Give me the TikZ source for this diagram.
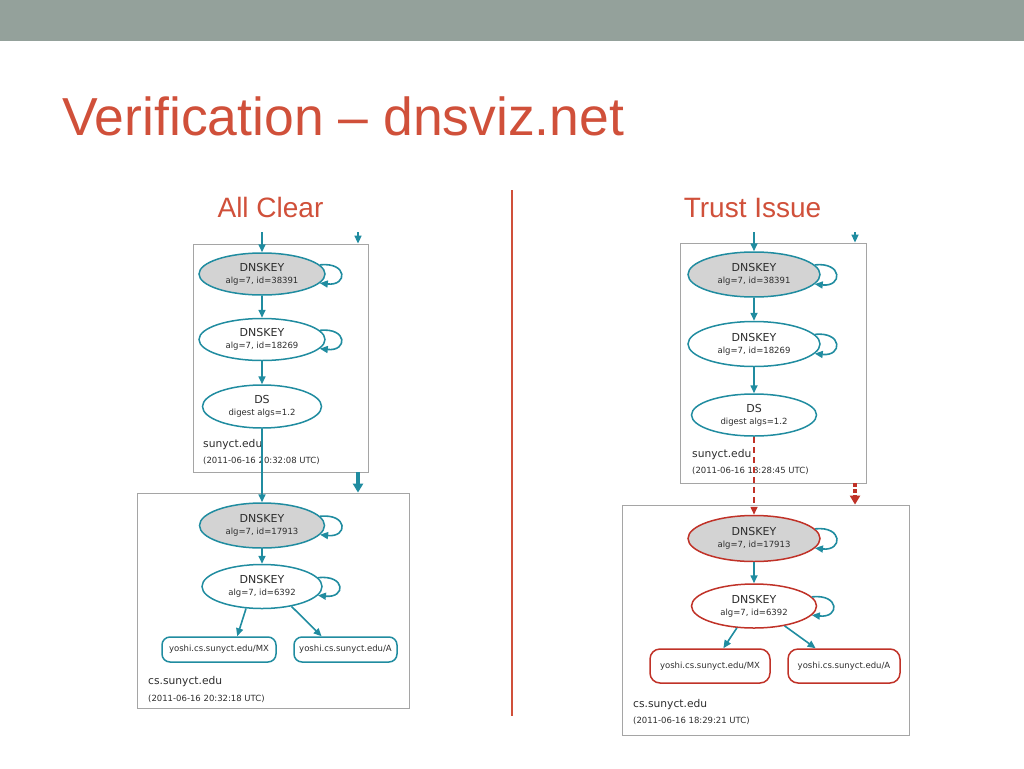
\documentclass[tikz,border=0pt]{standalone}
\usepackage{fontspec}
\setmainfont{Liberation Sans}
\newfontfamily\gv{DejaVu Sans}
\usepackage{xcolor}
\usepackage{tikz}
\usetikzlibrary{positioning,shapes,arrows.meta}
\definecolor{slidered}{RGB}{208,80,58}
\definecolor{bargray}{RGB}{148,161,155}
\definecolor{vizteal}{RGB}{32,140,160}
\definecolor{vizred}{RGB}{192,50,40}
\definecolor{keygray}{RGB}{211,211,211}
\definecolor{zonegray}{RGB}{165,165,165}
\definecolor{vizink}{RGB}{45,45,45}
\newcommand{\keytxt}{\gv\fontsize{11}{12}\selectfont}
\newcommand{\subtxt}{\fontsize{8.5}{10}\selectfont}
\tikzstyle{dnskey}=[%
      ellipse, draw=vizteal, line width=1.5pt, fill=white, text=vizink,
      inner sep=0pt, minimum width=126pt, minimum height=42pt, align=center, font=\keytxt
]
\tikzstyle{ksk}=[dnskey, fill=keygray]
\tikzstyle{rr}=[%
      rectangle, rounded corners=8pt, draw=vizteal, line width=1.5pt, text=vizink,
      inner sep=0pt, minimum height=25pt, font=\gv\subtxt
]
\tikzstyle{zone}=[rectangle, draw=zonegray, line width=0.8pt, inner sep=0pt]
\tikzstyle{zname}=[anchor=base west, text=vizink, inner sep=0pt, font=\gv\fontsize{10.7}{12}\selectfont]
\tikzstyle{ztime}=[anchor=base west, text=vizink, inner sep=0pt, font=\gv\subtxt]
\tikzstyle{arr}=[draw=vizteal, line width=1.6pt, -{Triangle[length=8pt,width=7pt]}]
\tikzstyle{bad}=[draw=vizred, line width=1.5pt, dash pattern=on 6pt off 4pt, -{Triangle[length=8pt,width=7pt]}]
\tikzstyle{deleg}=[line width=3.2pt, -{Triangle[length=9pt,width=10pt]}]
\tikzstyle{head}=[anchor=base, text=slidered, inner sep=0pt, font=\fontsize{28}{32}\selectfont]

\begin{document}
\begin{tikzpicture}[x=1pt, y=-1pt]
    \useasboundingbox (0,0) rectangle (1024,768);
    \fill[bargray] (0,0) rectangle (1024,41);
    \node[anchor=base west, text=slidered, inner sep=0pt, font=\fontsize{53.5}{60}\selectfont]
        (title) at (62,135) {Verification – dnsviz.net};
    \node[head] (clear) at (270.5,217) {All Clear};
    \node[head] (issue) at (752.5,217) {Trust Issue};
    \coordinate (divtop) at (512,190);
    \coordinate (divbot) at (512,716);
    \draw[slidered, line width=1.5pt] (divtop) -- (divbot);

    % all clear
    \node[zone, minimum width=175pt, minimum height=228pt] (lzu) at (280.5,358) {};
    \node[zone, minimum width=272pt, minimum height=215pt] (lzl) at (273,600.5) {};
    \node[ksk]              (lk1) at (262,274)         {DNSKEY\\\subtxt alg=7, id=38391};
    \node[dnskey]           (lk2) [below = 22pt of lk1] {DNSKEY\\\subtxt alg=7, id=18269};
    \node[dnskey, minimum width=119pt, minimum height=43pt]
                            (lds) [below = 23pt of lk2] {DS\\\subtxt digest algs=1.2};
    \node[zname] (lzun) at (203,447) {sunyct.edu};
    \node[ztime] (lzut) at (203,463) {(2011-06-16 20:32:08 UTC)};
    \node[ksk, minimum width=125pt, minimum height=45pt]
                            (lk4) at (262,525.5)       {DNSKEY\\\subtxt alg=7, id=17913};
    \node[dnskey, minimum width=120pt, minimum height=44pt]
                            (lk5) [below = 15pt of lk4] {DNSKEY\\\subtxt alg=7, id=6392};
    \node[rr, minimum width=114pt] (lmx) at (219,649.5)   {yoshi.cs.sunyct.edu/MX};
    \node[rr, minimum width=103pt] (la)  at (345.5,649.5) {yoshi.cs.sunyct.edu/A};
    \node[zname] (lzln) at (148,684) {cs.sunyct.edu};
    \node[ztime] (lzlt) at (148,701) {(2011-06-16 20:32:18 UTC)};

    \coordinate (lin) at (262,232);
    \coordinate (ltop) at (358,232);
    \draw[arr] (ltop) -- (ltop |- lzu.north);
    \draw[arr, deleg] (ltop |- lzu.south) -- (ltop |- lzl.north);
    \path (lin) edge[arr] (lk1)
          (lk1) edge[arr] (lk2)
          (lk2) edge[arr] (lds)
          (lds) edge[arr] (lk4)
          (lk4) edge[arr] (lk5)
          (lk5.234) edge[arr] (lmx.36)
          (lk5.326) edge[arr] (la.151);
    \draw[arr] (lk1.9) .. controls +(28,-3) and +(28,3) .. (lk1.-9);
    \draw[arr] (lk2.9) .. controls +(28,-3) and +(28,3) .. (lk2.-9);
    \draw[arr] (lk4.9) .. controls +(28,-3) and +(28,3) .. (lk4.-9);
    \draw[arr] (lk5.9) .. controls +(28,-3) and +(28,3) .. (lk5.-9);

    % trust issue
    \node[zone, minimum width=186pt, minimum height=240pt] (rzu) at (773,363) {};
    \node[zone, minimum width=287pt, minimum height=230pt] (rzl) at (765.5,620) {};
    \node[ksk, minimum width=132pt, minimum height=45pt]
                            (rk1) at (754,274.5)       {DNSKEY\\\subtxt alg=7, id=38391};
    \node[dnskey, minimum width=132pt, minimum height=45pt]
                            (rk2) [below = 23pt of rk1] {DNSKEY\\\subtxt alg=7, id=18269};
    \node[dnskey, minimum width=125pt, minimum height=42pt]
                            (rds) [below = 26pt of rk2] {DS\\\subtxt digest algs=1.2};
    \node[zname] (rzun) at (692,457) {sunyct.edu};
    \node[ztime] (rzut) at (692,473) {(2011-06-16 18:28:45 UTC)};
    \node[ksk, draw=vizred, minimum width=132pt, minimum height=46pt]
                            (rk4) at (754,538.5)       {DNSKEY\\\subtxt alg=7, id=17913};
    \node[dnskey, draw=vizred, minimum width=125pt, minimum height=44pt]
                            (rk5) [below = 21pt of rk4] {DNSKEY\\\subtxt alg=7, id=6392};
    \node[rr, draw=vizred, minimum width=120pt, minimum height=34pt, rounded corners=10pt]
                            (rmx) at (710,666) {yoshi.cs.sunyct.edu/MX};
    \node[rr, draw=vizred, minimum width=112pt, minimum height=34pt, rounded corners=10pt]
                            (ra)  at (844,666) {yoshi.cs.sunyct.edu/A};
    \node[zname] (rzln) at (633,707) {cs.sunyct.edu};
    \node[ztime] (rzlt) at (633,723) {(2011-06-16 18:29:21 UTC)};

    \coordinate (rin) at (754,232);
    \coordinate (rtop) at (855,232);
    \draw[arr] (rtop) -- (rtop |- rzu.north);
    \draw[bad, deleg, dash pattern=on 4pt off 2pt] (rtop |- rzu.south) -- (rtop |- rzl.north);
    \path (rin) edge[arr] (rk1)
          (rk1) edge[arr] (rk2)
          (rk2) edge[arr] (rds)
          (rds) edge[bad] (rk4)
          (rk4) edge[arr] (rk5)
          (rk5.232) edge[arr] (rmx.53)
          (rk5.327) edge[arr] (ra.148);
    \draw[arr] (rk1.9) .. controls +(28,-3) and +(28,3) .. (rk1.-9);
    \draw[arr] (rk2.9) .. controls +(28,-3) and +(28,3) .. (rk2.-9);
    \draw[arr] (rk4.9) .. controls +(28,-3) and +(28,3) .. (rk4.-9);
    \draw[arr] (rk5.9) .. controls +(28,-3) and +(28,3) .. (rk5.-9);
\end{tikzpicture}
\end{document}
